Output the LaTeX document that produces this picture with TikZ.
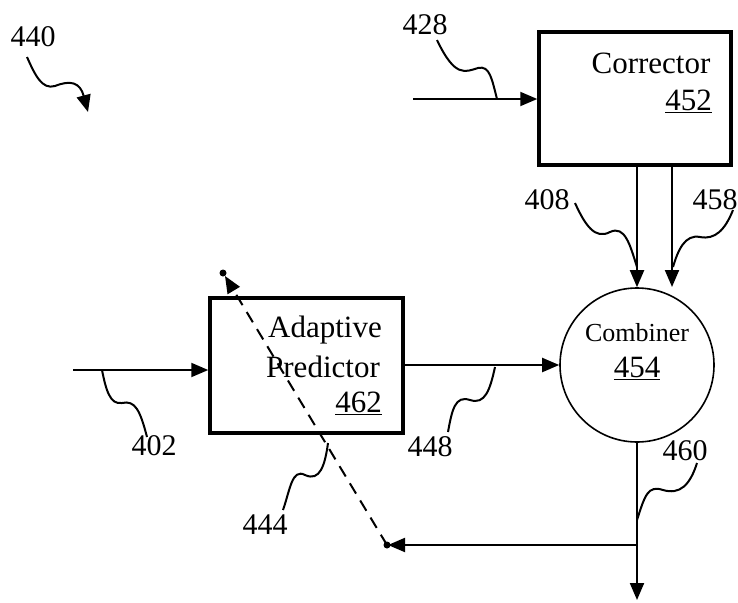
\documentclass[tikz,border=0pt]{standalone}
\usepackage{fontspec}
\setmainfont{Liberation Serif}
\usetikzlibrary{arrows.meta}
\begin{document}
\begin{tikzpicture}[x=1pt,y=-1pt,
  blk/.style={draw,line width=3.5pt,inner sep=0pt},
  txt/.style={font=\fontsize{31}{36}\selectfont,inner sep=0pt},
  lbl/.style={font=\fontsize{30}{34}\selectfont,inner sep=0pt},
  arr/.style={line width=2pt,-{Triangle[length=17pt,width=14pt]}},
  sq/.style={line width=2pt},
  dotf/.style={circle,fill,inner sep=0pt,minimum size=7pt}]
\useasboundingbox (0,0) rectangle (738,602);
% blocks
\node[blk,minimum width=192pt,minimum height=133pt] (cor) at (635,98.5) {};
\node[txt] (cort) at (651,63) {Corrector};
\node[txt,anchor=east] (cornum) at (712,101) {\underline{452}};
\node[blk,minimum width=193pt,minimum height=135pt] (pred) at (306.5,365.5) {};
\node[txt] (predt1) at (325,330) {Adaptive};
\node[txt] (predt2) at (323,367) {Predictor};
\node[txt,anchor=east] (prednum) at (382,403) {\underline{462}};
\node[draw,circle,line width=1.6pt,minimum size=154pt,inner sep=0pt] (comb) at (637,365) {};
\node[font=\fontsize{26}{30}\selectfont,inner sep=0pt] (combt) at (637,333) {Combiner};
\node[txt] (combnum) at (637,368) {\underline{454}};
% labels
\node[lbl] (l440) at (33,37) {440};
\node[lbl] (l428) at (425,25) {428};
\node[lbl] (l408) at (547,200) {408};
\node[lbl] (l458) at (715,200) {458};
\node[lbl] (l402) at (154,446) {402};
\node[lbl] (l448) at (430,447) {448};
\node[lbl] (l460) at (685,451) {460};
\node[lbl] (l444) at (265,525) {444};
% coordinates
\coordinate (in428) at (413,99);
\coordinate (in402) at (73,370);
\coordinate (c458s) at (672,165);
\coordinate (c458e) at (672,287);
\coordinate (fork) at (637,545);
\coordinate (outend) at (637,600);
\coordinate (fbend) at (388,545);
\coordinate (dtop) at (225,276);
\node[dotf] (dot1) at (387,545) {};
\node[dotf] (dot2) at (223,273) {};
% connectors
\draw[arr] (in428) -- (in428 -| cor.west);
\draw[arr] (cor.south -| comb.north) -- (comb.north);
\draw[arr] (c458s) -- (c458e);
\draw[arr] (in402) -- (in402 -| pred.west);
\draw[arr] (pred.east |- comb.west) -- (comb.west);
\draw[arr] (comb.south) -- (outend);
\draw[arr] (fork) -- (fbend);
\draw[arr,dash pattern=on 12pt off 8pt] (dot1.center) -- (dtop);
% squiggles
\draw[sq,-{Triangle[length=17pt,width=14pt]}] (27,57) .. controls (35,75) and (42,90) .. (55,86) .. controls (70,80) and (80,82) .. (88,112);
\draw[sq] (497,99) .. controls (492,80) and (490,65) .. (478,68) .. controls (465,72) and (455,78) .. (437,40);
\draw[sq] (575,203) .. controls (585,225) and (595,240) .. (610,232) .. controls (625,225) and (630,245) .. (637,267);
\draw[sq] (733,210) .. controls (725,230) and (715,240) .. (700,237) .. controls (685,234) and (678,250) .. (673,267);
\draw[sq] (495,367) .. controls (490,390) and (485,405) .. (470,400) .. controls (455,395) and (452,410) .. (448,432);
\draw[sq] (697,463) .. controls (690,485) and (680,495) .. (663,490) .. controls (648,485) and (645,495) .. (637,520);
\draw[sq] (328,443) .. controls (325,465) and (320,482) .. (305,475) .. controls (292,468) and (290,490) .. (283,510);
\draw[sq] (102,370) .. controls (106,390) and (110,405) .. (122,403) .. controls (135,400) and (140,410) .. (147,437);
\end{tikzpicture}
\end{document}
